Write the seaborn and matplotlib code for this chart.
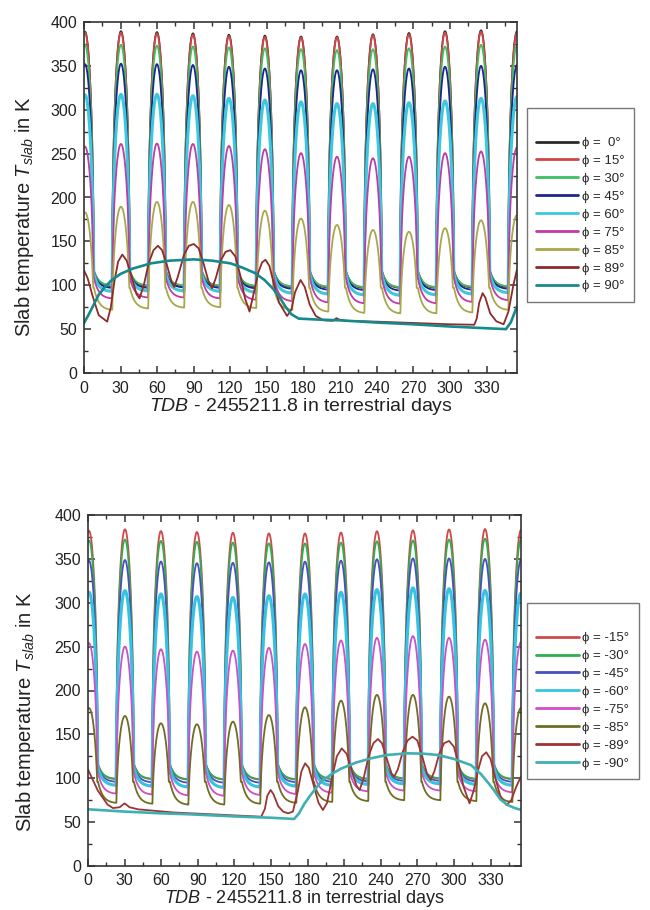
import numpy as np
import matplotlib
matplotlib.use("Agg")
import matplotlib.pyplot as plt
import seaborn as sns
from matplotlib.ticker import MultipleLocator

# ---------------- data ----------------
# days of local noon (peak) for each lunation
noon_days = [0.8, 30.3, 59.8, 89.3, 118.8, 148.3, 177.9, 207.4, 236.9, 266.4, 296.0, 325.5, 355.0]

# ----- northern latitudes (top panel) -----
top_labels = ["ϕ =  0°", "ϕ = 15°", "ϕ = 30°", "ϕ = 45°", "ϕ = 60°", "ϕ = 75°", "ϕ = 85°", "ϕ = 89°", "ϕ = 90°"]
top_colors = ["#2a2a2a", "#d24545", "#3cc060", "#1c2590", "#3ec8dc", "#c03aa8", "#a8a84a", "#8e2a2a", "#16898c"]

n00_peak = [389, 389.5, 388.5, 387, 385.5, 384.5, 383.5, 383.5, 386, 387.5, 389.5, 390.5, 389.5]
n15_peak = [388, 388, 387, 385.5, 384, 383, 382.5, 382.5, 385, 386, 388, 389, 388]
n30_peak = [374, 374, 373, 372, 371, 370, 369, 368, 369, 370, 372, 374, 374]
n45_peak = [352, 352.5, 352, 351, 349, 347, 345, 345, 346, 347, 349, 350, 351]
n60_peak = [317, 317.5, 317.5, 316, 313, 311, 309, 307, 307, 308, 310, 313, 315]
n75_peak = [258, 261, 261.5, 261, 258.7, 255, 250.6, 246.5, 244.7, 246.5, 250.6, 252.5, 257]
n85_peak = [183, 189.5, 195, 195, 191.5, 185, 176, 168.7, 163, 161, 165, 174, 180]

n00_dawn = [99, 99, 99, 99, 98.5, 98, 97.5, 97, 97, 97, 97.5, 98]
n15_dawn = [99.5, 99.5, 99.5, 99.5, 99, 98.5, 98, 97.5, 97.5, 97.5, 98, 98.5]
n30_dawn = [100, 100, 100, 100, 99.5, 99, 98.5, 98, 98, 98, 98.5, 99]
n45_dawn = [97, 97, 97.5, 97, 96.5, 96, 95, 94.5, 94, 94.5, 95, 96]
n60_dawn = [93, 93.5, 93.5, 93, 92, 91, 90, 89, 88.5, 89, 90, 91.5]
n75_dawn = [85, 86, 86, 85, 83.5, 82, 80.5, 79.5, 79, 79.5, 81, 83]
n85_dawn = [72, 73.5, 74.5, 75, 74, 72, 70, 68.5, 68, 68, 69, 72]

n_dusk = [116, 116, 116, 114, 112, 108, 97]

n89_day = [0, 3, 7, 12, 19, 22, 25, 28, 31.4, 35, 39, 43, 45.5, 49, 53, 57, 60.6, 64, 68, 72, 74, 77, 82, 86,
           90, 94, 98, 102, 105, 108, 112, 116, 120, 124, 128, 132, 135.7, 139, 143, 146, 148.8, 152, 156,
           160, 166.5, 170, 173, 177.5, 181, 185, 190, 196.6, 204, 207, 209, 215, 240, 270, 300, 320, 322,
           324, 326.8, 329, 333, 338, 344, 348, 352, 355]
n89_T = [117, 108, 88, 66, 58.5, 75, 105, 127, 135, 128, 110, 90, 85, 100, 125, 140, 145, 140, 123, 103, 98,
         110, 135, 145, 147, 142, 125, 105, 96.5, 108, 128, 138, 140, 133, 112, 85, 70, 90, 115, 126, 129, 122,
         100, 80, 65, 72, 92, 106, 98, 78, 65, 60, 59.5, 62.5, 61, 59.5, 58.5, 57, 55.5, 55, 62, 80, 91, 86,
         68, 59, 55.5, 70, 100, 118]

n90_day = [0, 4, 8, 12, 16, 22, 30, 40, 55, 70, 90, 105, 120, 130, 140, 148, 155, 160, 165, 170, 176, 190,
           210, 240, 270, 300, 330, 346, 350, 355]
n90_T = [57, 67, 78, 89, 96, 105, 113, 119, 125, 128, 129.5, 128, 125, 120, 114, 106, 96, 87, 76, 67, 62, 61,
         60, 57.5, 55.5, 53, 51, 50, 58, 76]

# ----- southern latitudes (bottom panel) -----
bot_labels = ["ϕ = -15°", "ϕ = -30°", "ϕ = -45°", "ϕ = -60°", "ϕ = -75°", "ϕ = -85°", "ϕ = -89°", "ϕ = -90°"]
bot_colors = ["#cc4a4a", "#2eb04e", "#4a4ec0", "#34c4e0", "#d04ec6", "#6e6e22", "#9c3434", "#3fb0b2"]

s15_peak = [382, 383.7, 381.7, 380.6, 379.8, 379, 379, 380, 381.5, 382.5, 383.5, 384, 383]
s30_peak = [371, 372, 370.5, 369.5, 368.5, 367.7, 367.5, 368.5, 370, 371, 372, 373, 372]
s45_peak = [348, 348.7, 347, 345, 345.5, 346, 346.8, 348, 349.5, 350.5, 350.5, 350, 349]
s60_peak = [312, 313.8, 310, 307, 306, 308, 310, 312, 315, 317, 316, 314, 311]
s75_peak = [254, 250, 247, 244.2, 245.5, 248.6, 253, 257, 260, 262, 260, 258, 255]
s85_peak = [180, 171, 162.6, 161.5, 164.5, 172, 180.8, 188.4, 195, 195, 193, 185.4, 180]

s15_dawn = [99, 99, 98.5, 98.5, 98.5, 98.5, 99, 99, 99.5, 99.5, 99, 99]
s30_dawn = [99.5, 99.5, 99, 99, 99, 99, 99.5, 99.5, 100, 100, 99.5, 99.5]
s45_dawn = [96, 95.5, 95, 95, 95, 95.5, 96, 96.5, 97, 97, 96.5, 96]
s60_dawn = [92, 91, 90, 89.5, 90, 91, 92, 93, 93.5, 93.5, 93, 92]
s75_dawn = [82.5, 81.5, 80.5, 80, 81, 82, 83.5, 85, 86, 86, 85, 84]
s85_dawn = [72, 71, 70, 70, 71, 72, 73, 74, 75, 75, 74, 73]

s_dusk = [116, 116, 114, 112, 106, 96]

s89_day = [0, 4, 8, 11, 16, 20.5, 26, 30, 34, 41, 70, 100, 130, 142, 145, 147, 149.7, 152, 156, 160, 164, 168,
           172, 175, 178, 181, 185, 189, 192.6, 196, 200, 204, 208, 212, 216, 220, 222.7, 226, 230, 234, 237.7,
           241, 245, 249, 251, 254, 258, 262, 266, 270, 274, 278, 281, 284, 288, 292, 296, 300, 304, 308,
           312.8, 316, 320, 323, 326.5, 330, 334, 338, 343, 347, 351, 355]
s89_T = [110, 98, 86, 80, 70, 66, 67, 71.4, 67, 64.6, 61, 59, 57, 56.2, 65, 80, 86.6, 82, 68, 62, 60, 62,
         85, 108, 117, 112, 92, 72, 63.8, 72, 100, 125, 134, 128, 110, 92, 86.6, 100, 125, 140, 144.7, 140,
         122, 105, 101.8, 110, 130, 143, 147.4, 143, 125, 105, 98, 108, 128, 140, 142.5, 136, 115, 90, 71.4,
         85, 110, 125, 129.6, 122, 100, 80, 69.5, 75, 90, 102]

s90_day = [0, 30, 60, 82, 120, 150, 169, 173, 177, 182, 191, 200, 207.5, 220, 232, 245, 262, 275, 287, 300,
           314, 322, 328, 333, 338, 344, 350, 355]
s90_T = [64.6, 62, 60, 59, 56.5, 55, 53.6, 60, 70, 80, 96, 105, 111, 118, 122.7, 126.5, 128.4, 128, 126.5,
         122, 115, 105, 95, 86, 76, 69.5, 66, 64]

# ---------------- rendering helpers ----------------
t = np.linspace(0, 355, 3551)
noon = np.asarray(noon_days)
half = np.diff(noon).mean() / 4.0


def diurnal(peaks, dawns, dusk, p=0.33, tau=4.0):
    P = np.asarray(peaks, float)
    D = np.asarray(dawns, float)
    out = np.empty_like(t)
    for i, ti in enumerate(t):
        k = int(np.argmin(np.abs(noon - ti)))
        dt = ti - noon[k]
        if abs(dt) < half:
            c = np.cos(np.pi / 2 * dt / half)
            base = (D[k - 1] if k >= 1 else D[0]) if dt < 0 else dusk
            out[i] = max(P[k] * c ** p, base)
        else:
            j = k if dt > 0 else k - 1
            ts = noon[j] + half
            te = noon[j + 1] - half
            s = ti - ts
            L = te - ts
            f = (np.exp(-s / tau) - np.exp(-L / tau)) / (1 - np.exp(-L / tau))
            out[i] = D[j] + (dusk - D[j]) * f
    return out


sns.set_theme(style="ticks")
plt.rcParams["font.family"] = ["Liberation Sans", "DejaVu Sans"]
plt.rcParams["mathtext.fontset"] = "custom"
plt.rcParams["mathtext.rm"] = "Liberation Sans"
plt.rcParams["mathtext.it"] = "Liberation Sans:italic"

fig = plt.figure(figsize=(6.5, 9.1), dpi=100)
ax1 = fig.add_axes([84 / 650, 1 - 373 / 910, 433 / 650, 351 / 910])
ax2 = fig.add_axes([88 / 650, 1 - 866 / 910, 433 / 650, 351 / 910])

top_series = [
    (n00_peak, n00_dawn, n_dusk[0]), (n15_peak, n15_dawn, n_dusk[1]), (n30_peak, n30_dawn, n_dusk[2]),
    (n45_peak, n45_dawn, n_dusk[3]), (n60_peak, n60_dawn, n_dusk[4]), (n75_peak, n75_dawn, n_dusk[5]),
    (n85_peak, n85_dawn, n_dusk[6]),
]
bot_series = [
    (s15_peak, s15_dawn, s_dusk[0]), (s30_peak, s30_dawn, s_dusk[1]), (s45_peak, s45_dawn, s_dusk[2]),
    (s60_peak, s60_dawn, s_dusk[3]), (s75_peak, s75_dawn, s_dusk[4]), (s85_peak, s85_dawn, s_dusk[5]),
]


def lw_for(color):
    return 2.2 if color in ("#3ec8dc", "#34c4e0") else 1.3


for (pk, dw, du), lab, col in zip(top_series, top_labels[:7], top_colors[:7]):
    sns.lineplot(x=t, y=diurnal(pk, dw, du), ax=ax1, color=col, lw=lw_for(col), label=lab,
                 estimator=None, sort=False)
sns.lineplot(x=n89_day, y=n89_T, ax=ax1, color=top_colors[7], lw=1.3, label=top_labels[7], estimator=None, sort=False)
sns.lineplot(x=n90_day, y=n90_T, ax=ax1, color=top_colors[8], lw=1.9, label=top_labels[8], estimator=None, sort=False)

for (pk, dw, du), lab, col in zip(bot_series, bot_labels[:6], bot_colors[:6]):
    sns.lineplot(x=t, y=diurnal(pk, dw, du), ax=ax2, color=col, lw=lw_for(col), label=lab,
                 estimator=None, sort=False)
sns.lineplot(x=s89_day, y=s89_T, ax=ax2, color=bot_colors[6], lw=1.3, label=bot_labels[6], estimator=None, sort=False)
sns.lineplot(x=s90_day, y=s90_T, ax=ax2, color=bot_colors[7], lw=1.9, label=bot_labels[7], estimator=None, sort=False)

for ax, ylc, xlc, anchor, xpad, xfs in [(ax1, (-0.111, 0.444), (0.5, -0.066), (1.023, 0.755), 6, 14),
                                        (ax2, (-0.118, 0.439), (0.5, -0.0635), (1.014, 0.749), 5, 13)]:
    ax.set_xlim(0, 355)
    ax.set_ylim(0, 400)
    ax.xaxis.set_major_locator(MultipleLocator(30))
    ax.xaxis.set_minor_locator(MultipleLocator(15))
    ax.yaxis.set_major_locator(MultipleLocator(50))
    ax.yaxis.set_minor_locator(MultipleLocator(25))
    ax.tick_params(which="both", direction="in", top=True, right=True, color="#333333")
    ax.tick_params(which="major", length=5, width=1.1, labelsize=11.5, labelcolor="#222222")
    ax.tick_params(which="minor", length=3, width=1.0)
    ax.tick_params(axis="x", pad=xpad)
    ax.tick_params(axis="y", pad=5)
    for sp in ax.spines.values():
        sp.set_visible(True)
        sp.set_color("#333333")
        sp.set_linewidth(1.2)
    ax.set_ylabel(r"Slab temperature $T_{slab}$ in K", fontsize=14.5, color="#222222")
    ax.set_xlabel(r"$TDB$ - 2455211.8 in terrestrial days", fontsize=xfs, color="#222222")
    ax.yaxis.set_label_coords(*ylc)
    ax.xaxis.set_label_coords(*xlc)
    leg = ax.legend(loc="upper left", bbox_to_anchor=anchor, borderaxespad=0, frameon=True, fancybox=False,
                    fontsize=9.5, handlelength=3.2, handletextpad=0.3, labelspacing=0.43,
                    title=" ", title_fontsize=10, borderpad=0.7)
    leg.get_frame().set_edgecolor("#555555")
    leg.get_frame().set_linewidth(1.0)
    for line in leg.get_lines():
        line.set_linewidth(2.0)

fig.savefig("out.png", dpi=100)
